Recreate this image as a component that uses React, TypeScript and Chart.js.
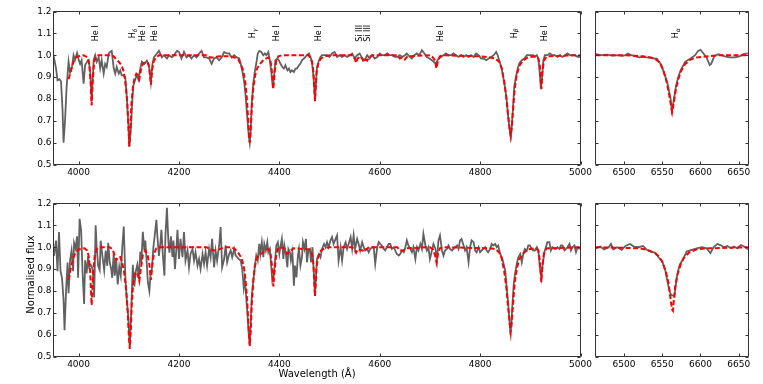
import React, { useEffect, useRef } from "react";
import { Chart, registerables } from "chart.js";

Chart.register(...registerables);

const FONT = '"DejaVu Sans", "Liberation Sans", sans-serif';

// ---------- DATA: [wavelength (Å), normalised flux] ----------
const topObserved: [number, number][] = [
  [3950,1.0],[3955,0.94],[3958,0.885],[3962,0.89],[3965,0.88],[3968,0.75],[3970,0.6],[3973,0.7],[3976,0.85],[3980,0.97],
  [3983,0.92],[3987,0.95],[3990,1.0],[3993,0.98],[3997,1.01],[4000,0.98],[4003,0.96],[4006,0.977],[4010,0.87],[4013,0.955],
  [4017,0.97],[4020,0.977],[4023,0.93],[4026,0.79],[4030,0.977],[4033,1.0],[4036,0.97],[4040,0.99],[4043,0.94],[4046,0.977],
  [4050,0.916],[4053,0.96],[4056,0.946],[4060,1.008],[4063,1.015],[4066,1.02],[4070,0.94],[4073,0.916],[4076,0.946],[4080,0.916],
  [4083,0.93],[4086,0.908],[4090,0.908],[4093,0.9],[4096,0.81],[4099,0.69],[4101,0.58],[4104,0.655],[4107,0.79],[4109,0.86],
  [4113,0.89],[4116,0.91],[4119,0.89],[4123,0.94],[4126,0.97],[4131,0.96],[4136,0.975],[4140,0.955],[4144,0.877],[4147,0.955],
  [4150,0.99],[4156,1.008],[4160,1.02],[4166,0.99],[4170,1.0],[4176,0.985],[4180,1.0],[4186,0.99],[4190,1.0],[4196,1.02],
  [4200,1.015],[4205,0.985],[4210,1.015],[4215,0.99],[4220,1.0],[4225,0.985],[4230,1.0],[4235,0.99],[4240,1.008],[4245,1.02],
  [4250,0.99],[4255,0.99],[4260,0.985],[4265,0.96],[4270,0.985],[4275,0.99],[4280,0.977],[4285,0.99],[4290,1.015],[4295,1.008],
  [4300,1.008],[4305,0.99],[4310,1.0],[4315,0.99],[4320,0.985],[4323,0.96],[4326,0.93],[4330,0.877],[4333,0.808],[4336,0.716],
  [4339,0.632],[4341,0.6],[4343,0.655],[4345,0.778],[4348,0.87],[4351,0.923],[4354,0.962],[4357,1.008],[4360,1.02],[4364,1.015],
  [4368,1.0],[4371,1.008],[4374,1.0],[4378,1.015],[4381,0.977],[4384,0.923],[4387,0.85],[4390,0.916],[4392,0.977],[4396,0.985],
  [4399,0.977],[4402,0.962],[4406,0.946],[4409,0.939],[4412,0.954],[4416,0.931],[4419,0.939],[4422,0.923],[4425,0.931],[4429,0.923],
  [4432,0.939],[4435,0.939],[4439,0.954],[4442,0.962],[4445,0.977],[4449,0.985],[4452,0.992],[4455,1.0],[4459,1.008],[4462,0.992],
  [4465,0.969],[4468,0.9],[4471,0.8],[4475,0.946],[4479,0.977],[4482,0.992],[4485,1.0],[4490,1.0],[4495,1.0],[4500,0.992],
  [4505,1.008],[4510,1.015],[4515,0.992],[4520,1.0],[4525,0.992],[4530,1.0],[4535,0.992],[4540,1.0],[4545,1.008],[4550,0.985],
  [4555,1.0],[4560,1.008],[4565,0.985],[4570,0.977],[4575,1.0],[4580,0.985],[4585,1.0],[4590,0.985],[4595,0.992],[4600,1.008],
  [4605,1.0],[4610,1.0],[4615,1.008],[4620,1.0],[4625,1.0],[4630,0.992],[4635,0.992],[4640,1.0],[4645,0.992],[4650,1.0],
  [4654,1.008],[4660,0.992],[4664,0.985],[4669,1.0],[4674,1.008],[4679,1.0],[4684,1.023],[4689,1.008],[4694,0.992],[4699,0.985],
  [4704,0.977],[4708,0.969],[4712,0.962],[4715,0.977],[4718,0.985],[4722,0.992],[4727,1.0],[4732,1.008],[4737,1.0],[4742,1.0],
  [4747,1.008],[4752,1.0],[4757,0.992],[4762,1.0],[4767,0.992],[4772,1.0],[4777,0.992],[4782,1.0],[4787,0.992],[4792,1.008],
  [4797,1.0],[4802,0.985],[4807,0.985],[4812,0.977],[4817,0.985],[4822,0.992],[4827,1.0],[4832,1.015],[4835,1.0],[4838,0.977],
  [4843,0.939],[4846,0.9],[4850,0.847],[4853,0.793],[4856,0.716],[4859,0.655],[4861,0.627],[4863,0.67],[4866,0.778],[4868,0.855],
  [4872,0.908],[4875,0.939],[4878,0.962],[4883,0.977],[4888,0.985],[4893,1.0],[4898,1.0],[4903,1.0],[4906,1.0],[4909,0.992],
  [4913,1.0],[4916,0.985],[4919,0.916],[4921,0.847],[4923,0.885],[4926,0.975],[4929,1.0],[4934,1.0],[4939,1.008],[4944,1.0],
  [4949,1.0],[4954,0.992],[4959,1.0],[4964,0.992],[4969,1.0],[4974,1.008],[4979,1.0],[4984,1.0],[4989,1.0],[4994,0.992],[5000,0.992],
];

const topModel: [number, number][] = [
  [3980,0.89],[3985,0.93],[3990,0.97],[3995,0.99],[4000,0.995],[4010,1.0],[4018,0.99],[4021,0.96],[4024,0.88],[4026,0.77],
  [4028,0.88],[4031,0.97],[4035,0.995],[4040,1.0],[4065,1.0],[4070,0.995],[4075,0.98],[4080,0.97],[4085,0.955],[4090,0.925],
  [4094,0.86],[4097,0.78],[4099,0.69],[4101,0.585],[4103,0.66],[4105,0.77],[4108,0.85],[4111,0.89],[4115,0.915],[4118,0.91],
  [4121,0.89],[4124,0.93],[4128,0.96],[4133,0.97],[4138,0.965],[4141,0.94],[4144,0.865],[4147,0.94],[4150,0.975],[4155,0.99],
  [4160,1.0],[4255,1.0],[4262,0.99],[4270,0.99],[4280,0.995],[4300,0.995],[4310,0.99],[4318,0.98],[4323,0.96],[4328,0.93],
  [4332,0.88],[4335,0.81],[4338,0.7],[4340,0.62],[4341,0.6],[4343,0.66],[4345,0.76],[4348,0.85],[4352,0.91],[4356,0.94],
  [4360,0.955],[4365,0.97],[4370,0.98],[4378,0.99],[4382,0.98],[4385,0.93],[4388,0.845],[4391,0.93],[4394,0.975],[4398,0.995],
  [4405,1.0],[4458,1.0],[4463,0.985],[4466,0.96],[4468,0.92],[4471,0.79],[4474,0.92],[4478,0.965],[4483,0.985],[4490,0.995],
  [4500,1.0],[4545,1.0],[4550,0.985],[4553,0.965],[4556,0.985],[4562,0.995],[4566,0.98],[4568,0.97],[4571,0.98],[4575,0.975],
  [4578,0.99],[4585,1.0],[4635,1.0],[4640,0.985],[4645,0.99],[4650,0.98],[4655,0.995],[4700,1.0],[4706,0.99],[4710,0.975],
  [4713,0.94],[4716,0.975],[4720,0.995],[4725,1.0],[4800,0.995],[4820,0.99],[4830,0.985],[4838,0.97],[4843,0.94],[4848,0.88],
  [4852,0.81],[4856,0.72],[4859,0.66],[4861,0.63],[4863,0.67],[4866,0.76],[4869,0.85],[4873,0.91],[4878,0.95],[4885,0.975],
  [4895,0.99],[4910,0.995],[4916,0.985],[4919,0.95],[4922,0.845],[4924,0.92],[4927,0.975],[4933,0.995],[5000,1.0],
];

const bottomObserved: [number, number][] = [
  [3951,0.96],[3955,1.03],[3958,0.89],[3961,1.07],[3964,0.89],[3967,0.86],[3970,0.76],[3972,0.62],[3975,0.8],[3978,0.93],
  [3980,0.79],[3983,0.94],[3986,0.985],[3989,0.89],[3991,1.02],[3994,0.995],[3997,1.05],[3999,0.86],[4002,1.13],[4005,1.08],
  [4008,0.88],[4011,0.74],[4013,0.94],[4016,0.88],[4019,0.96],[4021,0.91],[4024,0.92],[4028,0.9],[4031,0.77],[4034,1.1],
  [4036,1.0],[4039,0.915],[4042,0.895],[4044,1.03],[4048,0.95],[4051,0.895],[4054,0.985],[4057,0.915],[4059,1.02],[4062,0.93],
  [4065,0.9],[4067,0.86],[4070,0.975],[4072,0.87],[4075,0.94],[4078,0.83],[4081,0.91],[4084,0.87],[4087,1.0],[4090,1.095],
  [4093,0.87],[4096,0.76],[4099,0.68],[4102,0.545],[4105,0.715],[4108,0.92],[4111,0.82],[4114,0.89],[4117,0.92],[4120,0.855],
  [4123,0.98],[4125,0.93],[4128,1.07],[4131,0.985],[4133,1.03],[4136,0.92],[4138,0.84],[4141,0.8],[4144,0.89],[4146,0.9],
  [4149,1.0],[4152,1.06],[4155,1.125],[4157,1.05],[4160,0.96],[4163,1.02],[4165,1.08],[4168,0.96],[4171,0.87],[4173,1.05],
  [4176,1.18],[4179,1.02],[4181,0.975],[4184,1.05],[4187,0.955],[4189,1.03],[4192,0.9],[4195,1.0],[4197,1.08],[4200,0.946],
  [4203,1.038],[4207,0.954],[4210,1.069],[4213,0.939],[4217,0.985],[4220,0.908],[4223,0.969],[4227,0.992],[4230,0.939],[4233,0.977],
  [4237,0.916],[4240,0.946],[4243,0.901],[4247,0.969],[4250,0.924],[4253,0.977],[4256,0.916],[4260,0.992],[4263,0.954],[4266,1.038],
  [4270,0.908],[4273,0.985],[4276,0.939],[4280,1.008],[4283,1.092],[4286,0.908],[4290,0.946],[4293,1.008],[4296,0.931],[4300,0.969],
  [4303,0.985],[4306,0.954],[4310,0.992],[4313,0.962],[4316,0.954],[4319,0.946],[4323,0.939],[4326,0.901],[4329,0.817],[4331,0.855],
  [4333,0.8],[4336,0.71],[4339,0.602],[4341,0.549],[4343,0.648],[4345,0.771],[4348,0.847],[4351,0.908],[4354,0.962],[4357,0.939],
  [4360,1.015],[4362,0.969],[4365,1.023],[4368,0.954],[4370,1.015],[4373,0.985],[4376,1.023],[4378,0.977],[4381,0.992],[4384,0.908],
  [4386,0.847],[4389,0.87],[4392,0.954],[4394,1.008],[4397,1.023],[4400,0.969],[4402,1.0],[4405,1.038],[4408,0.946],[4410,1.008],
  [4413,0.969],[4416,0.908],[4418,0.992],[4421,0.977],[4423,0.939],[4426,0.977],[4429,0.824],[4431,0.916],[4434,0.862],[4437,0.962],
  [4439,0.992],[4442,0.916],[4445,0.954],[4447,1.023],[4450,0.992],[4453,1.038],[4455,0.931],[4458,0.985],[4461,0.992],[4463,0.931],
  [4466,1.0],[4468,0.908],[4471,0.778],[4475,0.946],[4479,0.969],[4482,0.954],[4485,0.992],[4489,1.015],[4492,1.0],[4495,1.023],
  [4498,1.0],[4502,1.031],[4505,1.046],[4508,1.015],[4512,1.038],[4515,1.054],[4518,0.939],[4522,1.0],[4525,0.939],[4528,1.0],
  [4532,1.023],[4535,0.992],[4538,1.015],[4542,1.046],[4545,0.992],[4548,1.054],[4551,0.992],[4555,1.038],[4558,1.015],[4561,0.985],
  [4565,1.023],[4568,1.0],[4571,0.985],[4575,0.992],[4578,0.977],[4581,0.992],[4585,1.0],[4588,1.0],[4591,0.924],[4595,1.0],
  [4598,1.023],[4601,1.015],[4604,1.008],[4608,0.992],[4611,0.985],[4614,1.0],[4618,1.015],[4621,1.015],[4624,0.992],[4628,1.0],
  [4631,0.985],[4634,0.969],[4638,0.962],[4641,0.969],[4644,0.985],[4648,0.977],[4651,1.0],[4654,1.031],[4657,1.008],[4661,0.992],
  [4664,0.977],[4667,1.0],[4671,0.946],[4674,1.0],[4677,0.985],[4681,1.015],[4684,0.992],[4687,1.061],[4691,1.008],[4694,0.985],
  [4697,1.0],[4700,0.946],[4704,0.985],[4707,1.015],[4711,0.992],[4714,0.939],[4717,1.031],[4720,1.054],[4724,0.985],[4727,0.962],
  [4730,0.985],[4734,0.992],[4737,1.008],[4740,0.992],[4744,0.985],[4747,0.992],[4750,1.0],[4754,1.008],[4757,0.992],[4760,1.031],
  [4763,1.038],[4767,1.008],[4770,0.985],[4773,1.0],[4777,0.931],[4780,1.0],[4783,1.031],[4787,1.023],[4790,0.985],[4793,0.977],
  [4797,1.0],[4800,0.977],[4803,0.985],[4807,0.992],[4810,1.0],[4813,0.985],[4816,0.977],[4820,0.992],[4823,1.015],[4826,1.008],
  [4830,1.015],[4833,1.0],[4836,1.008],[4840,0.969],[4843,0.954],[4846,0.931],[4850,0.893],[4853,0.817],[4856,0.74],[4858,0.679],
  [4860,0.618],[4862,0.633],[4864,0.725],[4867,0.832],[4870,0.885],[4873,0.924],[4876,0.954],[4880,0.969],[4883,0.931],[4886,0.969],
  [4889,0.992],[4893,0.985],[4896,1.008],[4899,1.008],[4903,0.992],[4906,0.985],[4909,0.985],[4913,1.0],[4916,0.985],[4919,0.908],
  [4922,0.862],[4924,0.908],[4928,0.977],[4931,1.0],[4934,1.023],[4938,1.023],[4941,0.985],[4944,1.0],[4948,0.992],[4951,0.992],
  [4954,1.0],[4958,0.992],[4961,1.008],[4964,1.008],[4968,0.985],[4971,0.992],[4974,1.0],[4978,1.015],[4981,0.985],[4984,1.0],
  [4988,1.008],[4991,0.977],[4994,1.0],[4999,0.992],
];

const bottomModel: [number, number][] = [
  [3980,0.85],[3985,0.91],[3990,0.955],[3995,0.98],[4000,0.99],[4012,0.995],[4017,0.985],[4020,0.96],[4023,0.89],[4026,0.735],
  [4029,0.88],[4032,0.96],[4036,0.99],[4040,1.0],[4062,1.0],[4068,0.99],[4072,0.96],[4075,0.94],[4079,0.955],[4083,0.955],
  [4087,0.93],[4091,0.88],[4095,0.8],[4098,0.7],[4100,0.6],[4102,0.535],[4104,0.62],[4106,0.74],[4109,0.84],[4112,0.88],
  [4116,0.885],[4119,0.865],[4121,0.845],[4124,0.9],[4128,0.965],[4133,0.985],[4138,0.96],[4141,0.92],[4144,0.85],[4147,0.92],
  [4150,0.97],[4155,0.995],[4160,1.0],[4255,1.0],[4262,0.99],[4270,0.985],[4280,0.99],[4290,1.0],[4305,1.0],[4312,0.99],
  [4318,0.975],[4322,0.96],[4326,0.94],[4330,0.9],[4333,0.84],[4336,0.75],[4339,0.62],[4341,0.55],[4343,0.62],[4345,0.74],
  [4348,0.84],[4351,0.91],[4355,0.95],[4360,0.965],[4367,0.975],[4375,0.99],[4380,0.99],[4383,0.96],[4386,0.9],[4388,0.82],
  [4390,0.88],[4393,0.95],[4396,0.99],[4400,1.0],[4410,0.995],[4415,0.97],[4420,0.98],[4428,0.995],[4460,0.99],[4465,0.97],
  [4468,0.92],[4471,0.775],[4474,0.91],[4478,0.96],[4483,0.985],[4490,0.995],[4500,1.0],[4545,1.0],[4550,0.99],[4553,0.975],
  [4556,0.99],[4566,0.985],[4568,0.98],[4572,0.99],[4580,1.0],[4635,1.0],[4640,0.985],[4647,0.985],[4652,0.995],[4700,1.0],
  [4706,0.99],[4710,0.965],[4713,0.93],[4716,0.97],[4720,0.995],[4725,1.0],[4820,0.995],[4832,0.99],[4838,0.975],[4843,0.95],
  [4848,0.89],[4852,0.82],[4856,0.72],[4859,0.65],[4861,0.61],[4863,0.66],[4866,0.75],[4869,0.84],[4873,0.9],[4878,0.945],
  [4885,0.97],[4895,0.99],[4910,0.995],[4916,0.985],[4919,0.94],[4922,0.84],[4924,0.91],[4927,0.97],[4933,0.995],[5000,1.0],
];

const topHaObserved: [number, number][] = [
  [6463,1.005],[6470,1.0],[6478,1.003],[6485,0.998],[6492,1.0],[6498,0.997],[6502,1.0],[6505,1.008],[6510,1.0],[6515,0.995],
  [6520,0.99],[6525,0.992],[6530,0.99],[6535,0.988],[6540,0.985],[6543,0.984],[6548,0.96],[6552,0.925],[6557,0.87],[6561,0.8],
  [6562.5,0.748],[6565,0.79],[6568,0.86],[6571,0.9],[6574,0.93],[6580,0.97],[6587,0.985],[6593,1.0],[6597,1.02],[6600,1.025],
  [6604,1.008],[6608,0.99],[6612,0.955],[6614,0.96],[6618,0.995],[6623,1.005],[6627,1.0],[6632,0.995],[6638,0.99],[6645,0.99],
  [6651,0.995],[6656,1.005],[6662,1.008],
];

const topHaModel: [number, number][] = [
  [6463,1.0],[6500,1.0],[6525,0.995],[6535,0.99],[6542,0.98],[6547,0.965],[6551,0.935],[6555,0.89],[6558,0.84],[6561,0.78],
  [6563,0.74],[6565,0.78],[6568,0.845],[6571,0.89],[6575,0.93],[6580,0.96],[6587,0.98],[6595,0.99],[6610,0.995],[6625,1.0],
  [6663,1.0],
];

const bottomHaObserved: [number, number][] = [
  [6463,0.995],[6469,1.003],[6474,0.99],[6480,1.0],[6483,1.015],[6486,0.99],[6491,1.0],[6497,0.988],[6502,1.006],[6508,1.015],
  [6513,1.003],[6519,1.0],[6525,1.006],[6530,0.988],[6535,0.98],[6541,0.975],[6545,0.955],[6550,0.935],[6554,0.895],[6557,0.84],
  [6560,0.795],[6562,0.78],[6564,0.78],[6566,0.775],[6567,0.805],[6569,0.86],[6571,0.895],[6573,0.92],[6578,0.95],[6582,0.98],
  [6589,0.988],[6595,0.995],[6602,1.0],[6608,0.995],[6613,0.973],[6617,1.0],[6622,1.015],[6626,1.01],[6631,1.0],[6635,1.006],
  [6640,0.995],[6644,1.003],[6648,0.995],[6653,1.01],[6657,1.003],[6662,0.99],
];

const bottomHaModel: [number, number][] = [
  [6463,1.0],[6500,0.997],[6520,0.995],[6530,0.988],[6540,0.975],[6545,0.96],[6550,0.935],[6555,0.885],[6558,0.84],[6561,0.76],
  [6563,0.715],[6564,0.71],[6565,0.75],[6567,0.82],[6570,0.875],[6574,0.92],[6578,0.95],[6585,0.975],[6595,0.99],[6610,0.995],
  [6663,1.0],
];

// line identifications: [wavelength, name, greek subscript]
const blueLineIds: [number, string, string][] = [
  [4026, "He I", ""], [4101, "H", "δ"], [4121, "He I", ""], [4144, "He I", ""], [4340, "H", "γ"],
  [4388, "He I", ""], [4471, "He I", ""], [4553, "Si III", ""], [4568, "Si III", ""], [4713, "He I", ""],
  [4861, "H", "β"], [4922, "He I", ""],
];
const redLineIds: [number, string, string][] = [[6563, "H", "α"]];

// axis ranges and tick labels
const FLUX_MIN = 0.5;
const FLUX_MAX = 1.2;
const FLUX_TICKS = [0.5, 0.6, 0.7, 0.8, 0.9, 1.0, 1.1, 1.2];
const BLUE_RANGE: [number, number] = [3950, 5000];
const BLUE_TICKS = [4000, 4200, 4400, 4600, 4800, 5000];
const RED_RANGE: [number, number] = [6462.8, 6662.8];
const RED_TICKS = [6500, 6550, 6600, 6650];
const LABEL_Y = 1.1;

// ---------- RENDERING ----------
const W = 763;
const H = 384;
const Y_AXIS_W = 40;
const X_AXIS_H = 20;

type Spec = {
  box: [number, number, number, number];
  range: [number, number];
  xTicks: number[];
  showY: boolean;
  observed: [number, number][];
  model: [number, number][];
  ids: [number, string, string][];
  titles?: boolean;
};

const toPts = (arr: [number, number][]) => arr.map(([x, y]) => ({ x, y }));

function drawIds(chart: any, ids: [number, string, string][]) {
  const { ctx, scales } = chart;
  const x = scales.x;
  const y = scales.y;
  const yc = y.getPixelForValue(LABEL_Y);
  ids.forEach(([wl, main, sub]) => {
    const px = x.getPixelForValue(wl);
    ctx.save();
    ctx.translate(px, yc);
    ctx.rotate(-Math.PI / 2);
    ctx.fillStyle = "#000";
    ctx.textBaseline = "top";
    ctx.textAlign = "left";
    ctx.font = `8px ${FONT}`;
    const wMain = ctx.measureText(main).width;
    ctx.font = `italic 6px ${FONT}`;
    const wSub = sub ? ctx.measureText(sub).width : 0;
    const start = -(wMain + wSub) / 2;
    ctx.font = `8px ${FONT}`;
    ctx.fillText(main, start, 0);
    if (sub) {
      ctx.font = `italic 6px ${FONT}`;
      ctx.fillText(sub, start + wMain, 3);
    }
    ctx.restore();
  });
}

function makeConfig(spec: Spec): any {
  const [L, T, R, B] = spec.box;
  const framePlugin = {
    id: "frameAndLabels",
    afterDraw(chart: any) {
      const { ctx, chartArea: a, scales } = chart;
      const xs = scales.x;
      const ys = scales.y;
      ctx.save();
      ctx.strokeStyle = "#333";
      ctx.lineWidth = 1;
      ctx.beginPath();
      ctx.rect(a.left, a.top, a.right - a.left, a.bottom - a.top);
      xs.ticks.forEach((t: any) => {
        const p = Math.round(xs.getPixelForValue(t.value)) + 0.5;
        ctx.moveTo(p, a.bottom);
        ctx.lineTo(p, a.bottom - 3);
        ctx.moveTo(p, a.top);
        ctx.lineTo(p, a.top + 3);
      });
      ys.ticks.forEach((t: any) => {
        const p = Math.round(ys.getPixelForValue(t.value)) + 0.5;
        ctx.moveTo(a.left, p);
        ctx.lineTo(a.left + 3, p);
        ctx.moveTo(a.right, p);
        ctx.lineTo(a.right - 3, p);
      });
      ctx.stroke();
      ctx.restore();
      drawIds(chart, spec.ids);
      if (spec.titles) {
        ctx.save();
        ctx.fillStyle = "#000";
        ctx.font = `10px ${FONT}`;
        ctx.textAlign = "center";
        ctx.textBaseline = "alphabetic";
        ctx.fillText("Wavelength (Å)", (a.left + a.right) / 2, a.bottom + 20.5);
        ctx.translate(34.3, a.top + 71);
        ctx.rotate(-Math.PI / 2);
        ctx.fillText("Normalised flux", 0, 0);
        ctx.restore();
      }
    },
  };
  return {
    type: "line",
    data: {
      datasets: [
        {
          data: toPts(spec.model),
          borderColor: "#ff0000",
          borderWidth: 2,
          borderDash: [5, 2.5],
          pointRadius: 0,
          tension: 0,
          fill: false,
          order: 0,
        },
        {
          data: toPts(spec.observed),
          borderColor: "#616161",
          borderWidth: 1.8,
          pointRadius: 0,
          tension: 0,
          fill: false,
          order: 1,
        },
      ],
    },
    options: {
      responsive: false,
      animation: false,
      devicePixelRatio: 1,
      events: [],
      layout: {
        padding: { left: L - Y_AXIS_W, top: T, right: W - R, bottom: H - B - X_AXIS_H },
      },
      plugins: { legend: { display: false }, tooltip: { enabled: false }, title: { display: false } },
      scales: {
        x: {
          type: "linear",
          position: "bottom",
          min: spec.range[0],
          max: spec.range[1],
          grid: { display: false, drawTicks: false },
          border: { display: false },
          afterBuildTicks: (s: any) => {
            s.ticks = spec.xTicks.map((v) => ({ value: v }));
          },
          ticks: {
            autoSkip: false,
            maxRotation: 0,
            padding: 3,
            color: "#000",
            font: { family: FONT, size: 9 },
            callback: (v: any) => String(v),
          },
          afterFit: (s: any) => {
            s.height = X_AXIS_H;
          },
        },
        y: {
          type: "linear",
          position: "left",
          min: FLUX_MIN,
          max: FLUX_MAX,
          grid: { display: false, drawTicks: false },
          border: { display: false },
          afterBuildTicks: (s: any) => {
            s.ticks = FLUX_TICKS.map((v) => ({ value: v }));
          },
          ticks: {
            display: spec.showY,
            padding: 2,
            color: "#000",
            font: { family: FONT, size: 9 },
            callback: (v: any) => Number(v).toFixed(1),
          },
          afterFit: (s: any) => {
            s.width = Y_AXIS_W;
          },
        },
      },
    },
    plugins: [framePlugin],
  };
}

function Panel({ spec }: { spec: Spec }) {
  const ref = useRef<HTMLCanvasElement>(null);
  useEffect(() => {
    const chart = new Chart(ref.current as HTMLCanvasElement, makeConfig(spec));
    return () => chart.destroy();
  }, []);
  return (
    <canvas
      ref={ref}
      width={W}
      height={H}
      style={{ position: "absolute", left: 0, top: 0, width: W, height: H }}
    />
  );
}

const specs: Spec[] = [
  { box: [53.5, 11.5, 580.5, 164.5], range: BLUE_RANGE, xTicks: BLUE_TICKS, showY: true, observed: topObserved, model: topModel, ids: blueLineIds },
  { box: [595.5, 11.5, 748.5, 164.5], range: RED_RANGE, xTicks: RED_TICKS, showY: false, observed: topHaObserved, model: topHaModel, ids: redLineIds },
  { box: [53.5, 203.5, 580.5, 356.5], range: BLUE_RANGE, xTicks: BLUE_TICKS, showY: true, observed: bottomObserved, model: bottomModel, ids: [], titles: true },
  { box: [595.5, 203.5, 748.5, 356.5], range: RED_RANGE, xTicks: RED_TICKS, showY: false, observed: bottomHaObserved, model: bottomHaModel, ids: [] },
];

export default function App() {
  return (
    <div style={{ position: "absolute", left: 0, top: 0, width: W, height: H, background: "#fff" }}>
      {specs.map((s, i) => (
        <Panel key={i} spec={s} />
      ))}
    </div>
  );
}
